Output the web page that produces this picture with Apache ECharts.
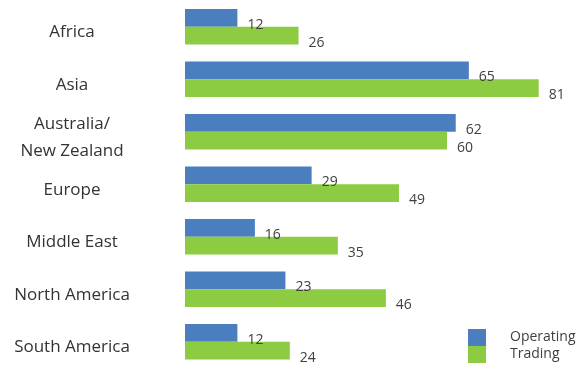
<!DOCTYPE html>
<html>
<head>
<meta charset="utf-8">
<script src="https://cdn.jsdelivr.net/npm/echarts@6/dist/echarts.min.js"></script>
<style>
  html, body { margin: 0; padding: 0; background: #fff; }
  #chart { width: 579px; height: 368px; }
</style>
</head>
<body>
<div id="chart"></div>
<script>
// Regions and their Operating / Trading figures
const regions = ['Africa', 'Asia', 'Australia/\nNew Zealand', 'Europe', 'Middle East', 'North America', 'South America'];
const operating = [12, 65, 62, 29, 16, 23, 12];
const trading = [26, 81, 60, 49, 35, 46, 24];

const TEXT_FONT = 'Open Sans';

const chart = echarts.init(document.getElementById('chart'), null, { renderer: 'canvas' });

const valueLabel = {
  show: true,
  position: 'right',
  distance: 10,
  offset: [0, 7],
  color: '#404040',
  fontFamily: TEXT_FONT,
  fontSize: 14
};

// one legend per series so the two keys stack tightly in the corner
function legendFor(name, top) {
  return {
    orient: 'vertical',
    left: 468,
    top: top,
    padding: 0,
    itemWidth: 18,
    itemHeight: 17,
    itemGap: 0,
    icon: 'rect',
    textStyle: {
      color: '#404040',
      fontFamily: TEXT_FONT,
      fontSize: 14,
      padding: [0, 0, 0, 19]
    },
    data: [name]
  };
}

chart.setOption({
  animation: false,
  backgroundColor: '#ffffff',
  grid: { left: 185, top: 0.5, height: 369, width: 393 },
  legend: [legendFor('Operating', 329), legendFor('Trading', 346)],
  xAxis: {
    type: 'value',
    min: 0,
    max: 90,
    show: false
  },
  yAxis: {
    type: 'category',
    inverse: true,
    data: regions,
    axisLine: { show: false },
    axisTick: { show: false },
    axisLabel: {
      margin: 113,
      align: 'center',
      formatter: function (v) {
        return v.split('\n').map(function (line) { return '{r|' + line + '}'; }).join('\n');
      },
      rich: {
        r: {
          color: '#333333',
          fontFamily: TEXT_FONT,
          fontSize: 17,
          lineHeight: 27,
          padding: [11, 0, 0, 0]
        }
      }
    }
  },
  series: [
    {
      name: 'Operating',
      type: 'bar',
      data: operating,
      barGap: '0%',
      barCategoryGap: '32.5%',
      itemStyle: { color: '#4A7EBE' },
      label: valueLabel
    },
    {
      name: 'Trading',
      type: 'bar',
      data: trading,
      itemStyle: { color: '#8CCB42' },
      label: valueLabel
    }
  ]
});
</script>
</body>
</html>
